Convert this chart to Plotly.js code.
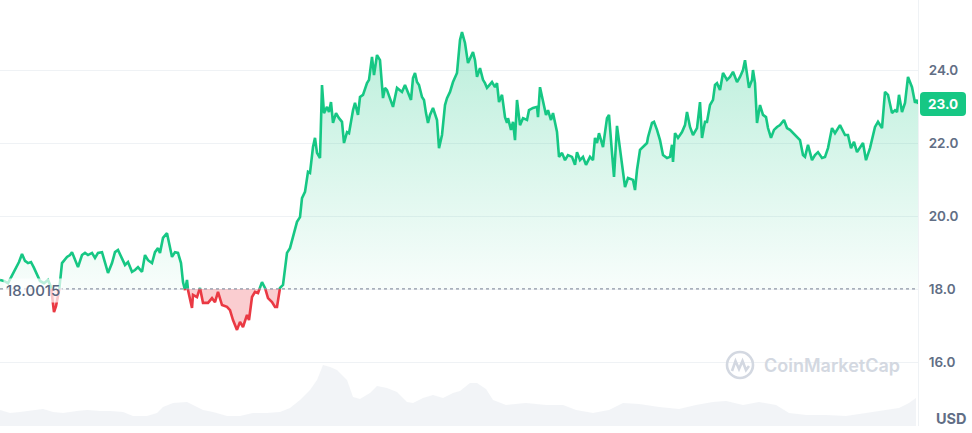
<!DOCTYPE html>
<html>
<head>
<meta charset="utf-8">
<script src="https://cdn.plot.ly/plotly-3.0.1.min.js"></script>
<style>html,body{margin:0;padding:0;background:#fff;}#chart{width:972px;height:433px;}</style>
</head>
<body>
<div id="chart"></div>
<script>
// time steps (sample position along the period) and price in USD
const timeStep = [0,4,8,12,16,19,22,25,28,31,34,37,40,44,48,51,54,56,59,62,67,70,72,75,78,82,85,88,92,95,98,102,105,108,112,115,118,122,125,128,132,135,138,142,145,148,152,155,158,160,163,167,169,172,175,178,181,183,185,187,188,192,193,197,200,203,208,212,215,218,222,227,230,233,237,240,243,247,249,252,255,258,262,265,268,272,275,277,280,283,287,290,293,297,300,302,305,308,310,313,315,317,320,322,324,327,329,331,333,336,339,342,344,347,349,352,353,355,358,360,363,367,369,372,374,377,380,383,385,387,391,393,397,400,402,405,407,411,413,415,417,419,422,424,426,428,430,433,437,439,442,445,447,450,453,457,460,462,465,468,473,475,477,480,483,485,487,492,495,497,499,502,505,507,508,511,513,515,517,520,523,527,529,533,537,538,540,543,546,548,551,553,557,559,562,565,568,572,575,577,580,583,586,590,593,595,597,599,603,607,609,612,614,617,620,623,625,628,633,635,637,640,643,647,648,652,654,657,660,663,667,670,672,673,675,678,682,685,687,690,693,697,700,702,705,707,710,713,715,717,720,723,727,730,733,737,740,743,745,747,749,752,753,755,757,760,763,766,768,771,774,777,780,784,787,790,795,800,803,805,808,812,815,818,822,825,828,832,835,840,845,848,851,854,857,860,863,866,870,875,878,882,885,888,892,895,897,899,902,905,908,912,915,917,918];
const priceUSD = [18.25,18.22,18.16,18.36,18.60,18.74,18.96,18.77,18.71,18.74,18.58,18.38,18.22,18.16,18.25,18.05,17.37,17.53,17.92,18.71,18.88,18.93,19.01,18.79,18.60,18.93,18.99,18.93,18.99,18.85,18.99,19.01,18.71,18.44,18.71,19.01,19.07,18.85,18.66,18.74,18.47,18.52,18.60,18.47,18.93,18.79,18.71,19.01,19.12,18.99,19.40,19.53,19.26,18.88,19.01,18.99,18.71,18.19,17.97,18.25,17.97,17.48,17.84,17.78,18.03,17.62,17.62,17.75,17.64,17.92,17.56,17.51,17.42,17.15,16.88,17.10,16.96,17.29,17.15,17.78,17.92,17.89,18.19,18.03,17.75,17.64,17.51,17.51,18.03,18.11,18.99,19.12,19.42,19.84,19.97,20.49,20.66,21.21,21.18,21.89,22.14,21.73,21.59,23.59,22.82,22.99,22.85,23.12,22.55,22.82,22.68,22.58,22.00,22.30,22.27,22.77,22.90,23.10,22.77,23.26,23.32,23.64,23.73,24.36,23.86,24.41,24.27,23.23,23.51,23.45,23.10,22.99,23.51,23.45,23.40,23.59,23.45,23.18,23.78,23.92,23.67,23.59,23.26,23.18,22.82,22.55,22.77,22.96,22.63,21.86,22.22,23.04,23.23,23.40,23.67,23.92,24.82,25.04,24.74,24.19,24.49,24.27,23.81,24.05,23.73,23.64,23.51,23.67,23.53,23.64,23.12,23.32,22.71,22.55,22.68,22.36,22.58,22.08,23.18,22.49,22.68,22.63,22.90,22.96,22.99,22.71,23.53,23.18,22.77,22.90,22.63,22.82,22.30,21.62,21.73,21.53,21.67,21.62,21.40,21.75,21.53,21.62,21.40,21.62,21.53,22.14,22.00,22.27,21.89,22.68,22.77,21.73,21.07,22.47,21.81,21.07,20.79,21.04,20.99,20.71,21.26,21.81,21.89,22.00,22.16,22.55,22.58,22.36,22.08,21.67,21.59,21.62,21.95,21.48,22.27,22.14,22.30,22.49,22.85,22.44,22.22,22.41,23.12,22.14,22.58,22.58,23.04,23.18,23.59,23.64,23.45,23.92,23.73,23.81,23.95,23.67,23.81,24.00,24.27,23.92,23.51,23.73,24.00,23.64,22.55,23.04,22.77,22.71,22.41,22.14,22.36,22.44,22.49,22.63,22.41,22.36,22.22,22.08,21.67,21.62,21.95,21.53,21.67,21.75,21.59,21.62,21.86,22.41,22.27,22.49,22.22,22.22,21.86,22.03,21.75,21.86,22.00,21.53,21.86,22.44,22.58,22.41,23.40,23.32,22.82,22.90,22.85,23.32,22.85,23.10,23.81,23.53,23.10,23.18,23.07];

// volume (millions USD), sampled along the same time steps
const volStep = [0,10,20,33,43,53,63,77,87,100,110,123,133,147,157,163,173,187,193,203,213,227,240,253,267,280,290,300,310,317,323,330,337,347,353,360,370,377,387,397,407,413,423,433,443,453,460,470,477,486,493,506,526,546,563,576,593,609,623,639,659,679,696,713,726,743,759,776,789,806,826,846,866,886,899,909,916];
const volumeM = [16,13,14,16,17,14,13,15,16,15,15,14,10,10,13,19,23,24,21,16,14,10,10,13,13,14,18,26,36,46,61,59,56,46,29,27,33,40,38,34,24,23,28,31,28,33,35,43,43,37,26,21,23,21,21,16,13,16,23,22,19,17,21,24,25,21,24,21,13,11,11,10,13,16,18,23,28];

const openPrice = 18.0015;
const lastPrice = 23.0;
const yTicks = [16, 18, 20, 22, 24];
const yTickText = ['16.0', '18.0', '20.0', '22.0', '24.0'];

const GREEN = '#16c784', RED = '#ea3943';

// split the series at the open-price crossings so each part can be coloured
const ax = [], ay = [];
for (let i = 0; i < priceUSD.length; i++) {
  ax.push(timeStep[i]); ay.push(priceUSD[i]);
  if (i < priceUSD.length - 1) {
    const a = priceUSD[i] - openPrice, b = priceUSD[i + 1] - openPrice;
    if (a * b < 0) {
      const f = a / (a - b);
      ax.push(timeStep[i] + f * (timeStep[i + 1] - timeStep[i]));
      ay.push(openPrice);
    }
  }
}
const eps = 1e-9;
const upY = ay.map(v => Math.max(v, openPrice));
const dnY = ay.map(v => Math.min(v, openPrice));
const greenLine = ay.map(v => v >= openPrice - eps ? v : null);
const redLine = ay.map(v => v <= openPrice + eps ? v : null);
const baseY = ay.map(() => openPrice);

const traces = [
  { x: volStep, y: volumeM, yaxis: 'y2', type: 'scatter', mode: 'lines', line: { width: 0 },
    fill: 'tozeroy', fillcolor: 'rgba(230,234,240,0.5)', hoverinfo: 'skip' },
  { x: ax, y: baseY, type: 'scatter', mode: 'lines', line: { width: 0 }, hoverinfo: 'skip' },
  { x: ax, y: upY, type: 'scatter', mode: 'lines', line: { width: 0 }, fill: 'tonexty',
    fillgradient: { type: 'vertical', start: 18, stop: 25.1,
      colorscale: [[0, 'rgba(22,199,132,0.03)'], [1, 'rgba(22,199,132,0.30)']] },
    hoverinfo: 'skip' },
  { x: ax, y: baseY, type: 'scatter', mode: 'lines', line: { width: 0 }, hoverinfo: 'skip' },
  { x: ax, y: dnY, type: 'scatter', mode: 'lines', line: { width: 0 }, fill: 'tonexty',
    fillcolor: 'rgba(234,57,67,0.25)', hoverinfo: 'skip' },
  { x: ax, y: greenLine, type: 'scatter', mode: 'lines', connectgaps: false,
    line: { color: GREEN, width: 2.6 } },
  { x: ax, y: redLine, type: 'scatter', mode: 'lines', connectgaps: false,
    line: { color: RED, width: 2.6 } }
];

// decoration helpers (pixel -> paper, plot area is 918 x 426 px)
const PW = 918, PH = 426;
const px = p => p / PW;
const py = p => (PH - p) / PH;
function roundRect(x0, y0, x1, y1, r) {
  return `M ${px(x0 + r)} ${py(y0)} L ${px(x1 - r)} ${py(y0)} Q ${px(x1)} ${py(y0)} ${px(x1)} ${py(y0 + r)} ` +
         `L ${px(x1)} ${py(y1 - r)} Q ${px(x1)} ${py(y1)} ${px(x1 - r)} ${py(y1)} L ${px(x0 + r)} ${py(y1)} ` +
         `Q ${px(x0)} ${py(y1)} ${px(x0)} ${py(y1 - r)} L ${px(x0)} ${py(y0 + r)} Q ${px(x0)} ${py(y0)} ${px(x0 + r)} ${py(y0)} Z`;
}

const layout = {
  width: 972, height: 433,
  margin: { l: 0, r: 54, t: 0, b: 7, pad: 0 },
  paper_bgcolor: '#ffffff', plot_bgcolor: '#ffffff',
  showlegend: false,
  font: { family: 'Inter, sans-serif', color: '#616e85' },
  xaxis: { range: [0, 918], showgrid: false, zeroline: false, showticklabels: false, showline: false, fixedrange: true },
  yaxis: {
    side: 'right', range: [14.247, 25.918], tickvals: yTicks, ticktext: yTickText,
    showgrid: true, gridcolor: '#eff2f5', gridwidth: 1, zeroline: false,
    showline: true, linecolor: '#eff2f5', linewidth: 1, ticks: '',
    ticklabelstandoff: 7,
    tickfont: { family: 'Inter, sans-serif', size: 13.5, color: '#616e85', weight: 600 }
  },
  yaxis2: { overlaying: 'y', range: [0, 426], visible: false, fixedrange: true },
  shapes: [
    { type: 'line', xref: 'paper', x0: 0, x1: 1, yref: 'y', y0: openPrice, y1: openPrice,
      line: { color: '#8e96a6', width: 1.2, dash: 'dot' }, layer: 'above' },
    { type: 'circle', xref: 'x', yref: 'paper', x0: 727, x1: 753, y0: py(378), y1: py(352),
      line: { color: '#d3d8e1', width: 2.6 } },
    { type: 'path', xref: 'x', yref: 'paper',
      path: `M 732 ${py(371)} L 735.5 ${py(361)} L 739 ${py(369)} L 742.5 ${py(361)} L 746 ${py(370)} L 749 ${py(366)}`,
      line: { color: '#d3d8e1', width: 2.6 } },
    { type: 'path', xref: 'paper', yref: 'paper', path: roundRect(920, 92, 966, 116, 4),
      fillcolor: GREEN, line: { width: 0 }, layer: 'above' }
  ],
  annotations: [
    { xref: 'paper', x: 0, xanchor: 'left', xshift: 3, yref: 'y', y: openPrice, yanchor: 'middle', yshift: -2,
      text: '18.0015', showarrow: false, bgcolor: 'rgba(255,255,255,0.7)', borderpad: 2,
      font: { family: 'Inter, sans-serif', size: 15, color: '#58667e', weight: 500 } },
    { xref: 'paper', x: px(943), xanchor: 'center', yref: 'paper', y: py(104), yanchor: 'middle',
      text: '<b>' + lastPrice.toFixed(1) + '</b>', showarrow: false,
      font: { family: 'Inter, sans-serif', size: 13.5, color: '#ffffff' } },
    { xref: 'paper', x: 1, xanchor: 'left', xshift: 16, yref: 'paper', y: 0, yanchor: 'middle', yshift: 8,
      text: '<b>USD</b>', showarrow: false,
      font: { family: 'Inter, sans-serif', size: 14.5, color: '#616e85' } },
    { xref: 'x', x: 762, xanchor: 'left', yref: 'paper', y: py(365), yanchor: 'middle',
      text: 'CoinMarketCap', showarrow: false,
      font: { family: 'Inter, sans-serif', size: 18, color: '#d3d8e1', weight: 600 } }
  ]
};

Plotly.newPlot('chart', traces, layout, { displayModeBar: false, staticPlot: true });
</script>
</body>
</html>
